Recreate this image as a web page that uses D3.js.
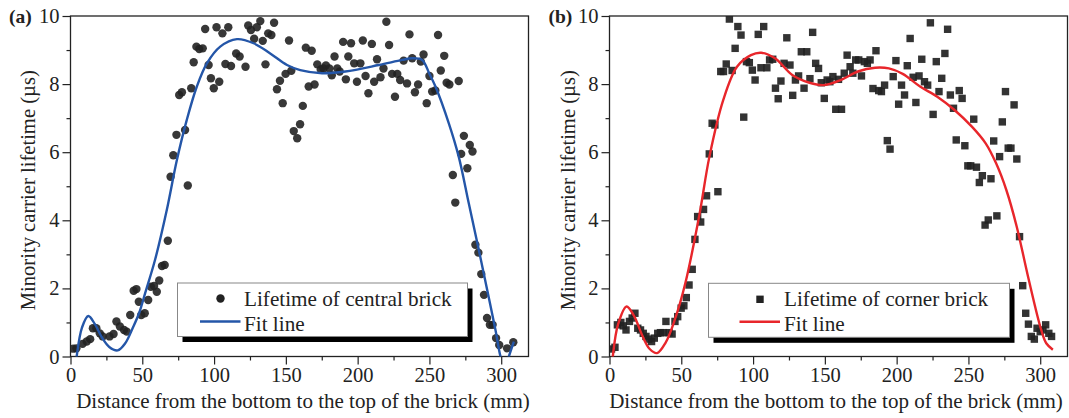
<!DOCTYPE html>
<html>
<head>
<meta charset="utf-8">
<script src="https://cdn.jsdelivr.net/npm/d3@7"></script>
<style>
  html, body { margin: 0; padding: 0; background: #fff; }
  svg { display: block; }
  text { font-family: "Liberation Serif", "Times New Roman", serif; fill: #222; }
</style>
</head>
<body>
<svg id="chart" width="1069" height="418"></svg>
<script>
// ---------- data ----------
const xMajorTicks = [0, 50, 100, 150, 200, 250, 300];
const xMinorTicks = [25, 75, 125, 175, 225, 275];
const yMajorTicks = [0, 2, 4, 6, 8, 10];
const yMinorTicks = [1, 3, 5, 7, 9];

const xTitle = "Distance from the bottom to the top of the brick (mm)";
const yTitle = "Minority carrier lifetime (\u00b5s)";

// (a) central brick
const centralX = [1.9,4.1,8.4,11.3,13.7,15.6,18.0,20.4,22.4,27.2,30.0,32.0,34.4,37.3,39.2,41.6,44.0,45.9,47.6,49.3,
  51.7,54.1,56.0,58.2,60.1,61.8,63.7,65.6,67.8,69.7,71.6,73.8,75.7,77.6,79.8,81.7,84.1,85.8,87.7,89.7,
  92.1,93.8,96.2,97.8,99.8,101.7,103.6,105.8,107.9,109.9,111.8,115.4,117.8,121.9,123.8,125.7,127.9,129.8,132.2,133.9,
  135.8,137.7,139.9,141.8,143.8,145.9,147.8,149.8,152.2,153.8,155.5,157.9,159.9,161.8,163.9,165.9,168.0,170.0,171.9,174.3,
  176.2,177.9,180.3,182.0,183.9,185.8,187.5,189.9,191.8,193.5,195.4,197.6,199.5,201.9,203.6,205.5,207.5,209.9,211.5,213.5,
  215.9,218.0,220.0,221.9,224.0,226.0,227.6,229.6,232.0,234.4,236.1,238.0,239.9,242.1,244.0,245.9,248.1,250.0,251.9,254.1,
  256.0,257.9,260.3,262.0,263.9,266.3,268.0,270.4,272.1,274.0,276.4,278.1,280.0,282.0,284.1,286.1,288.0,290.1,292.1,294.0,
  296.4,298.6,304.1,308.4];
const centralY = [0.23,0.24,0.37,0.44,0.51,0.83,0.83,0.68,0.59,0.59,0.66,1.03,0.88,0.78,0.73,1.22,1.93,1.98,1.61,1.22,
  1.27,1.66,2.05,2.07,1.90,2.23,2.66,2.69,3.40,5.28,5.91,6.51,7.68,7.76,6.65,5.02,7.88,8.64,9.10,9.03,
  9.05,9.62,8.56,8.17,7.88,9.67,8.07,9.49,8.59,9.67,8.53,8.90,8.81,8.51,9.72,9.59,9.33,9.67,9.85,9.27,
  8.58,9.49,9.44,9.80,7.85,8.10,7.44,8.30,9.28,8.39,6.62,6.41,6.82,7.36,9.07,7.93,8.98,7.99,8.58,8.43,
  8.46,8.55,8.46,8.26,8.81,8.46,8.37,9.24,8.14,8.81,9.20,8.61,8.07,8.61,9.28,8.24,7.73,9.18,8.07,8.73,
  8.20,8.46,9.83,9.15,8.30,7.63,8.30,8.12,8.69,8.02,9.46,8.76,7.76,7.99,8.66,8.87,7.44,8.24,7.78,7.81,
  9.44,8.40,8.83,8.04,7.99,5.33,4.52,8.09,5.95,6.48,5.53,6.21,6.02,3.28,3.05,2.42,1.81,1.13,0.93,0.93,
  0.54,0.34,0.24,0.42];

const fitAX = [2.5,4.3,8,12.4,17,22,27,32.9,38,43.8,48,52,58.9,67.1,74.1,81,88,95,104.3,115.9,
  127.5,139.1,150.8,160,175.2,191.4,214.7,231,237.8,244.9,250,254.2,263.5,270.4,277.4,284.4,290.2,296,299.5,302.4,
  305.3,308.8];
const fitAY = [-0.8,0,0.85,1.19,0.95,0.55,0.28,0.18,0.38,0.88,1.3,1.86,2.84,4.31,5.77,6.95,7.93,8.61,9.1,9.32,
  9.2,8.9,8.56,8.41,8.32,8.37,8.56,8.71,8.76,8.71,8.3,7.93,6.85,5.87,4.5,3.13,1.96,0.78,0,-0.35,
  0,0.44];

// (b) corner brick
const cornerX = [1.4,3.8,5.5,7.9,9.6,11.5,13.9,15.8,17.7,19.7,21.6,23.5,25.4,27.3,29.3,31.2,33.6,35.5,37.4,39.3,
  41.5,43.6,45.6,47.5,49.9,51.8,53.5,55.4,57.6,59.5,61.4,63.5,65.5,67.6,69.5,71.5,73.4,75.5,77.5,79.4,
  81.3,83.5,85.4,87.5,89.4,91.6,93.5,95.4,97.4,99.5,101.4,103.6,105.5,107.4,109.6,111.5,113.7,115.6,117.5,119.4,
  121.6,123.5,125.7,127.6,129.5,131.7,133.6,135.5,137.4,139.6,141.5,143.6,145.6,147.5,149.6,151.6,153.5,155.6,157.6,159.5,
  161.6,163.5,165.5,167.6,169.5,171.5,173.6,175.5,177.5,179.6,181.5,183.5,185.6,187.5,189.4,191.6,193.5,195.4,197.6,199.5,
  201.4,203.4,205.5,207.4,209.4,211.5,213.4,215.6,217.5,219.4,221.6,223.5,225.4,227.6,229.5,231.4,233.6,235.5,237.4,239.6,
  241.5,243.6,245.6,247.5,249.6,251.6,253.7,255.6,257.6,259.7,261.6,263.8,265.7,267.6,269.8,271.7,273.6,275.8,277.7,279.6,
  281.8,283.7,285.6,287.8,289.9,291.8,293.8,295.9,297.8,300.0,301.9,303.8,306.0,307.9];
const cornerY = [0.22,0.27,0.93,1.00,0.90,0.78,1.03,1.13,1.27,0.83,0.78,0.68,0.59,0.51,0.44,0.54,0.68,0.70,0.70,1.03,
  0.70,0.66,1.03,1.17,1.42,1.49,1.73,2.10,2.56,3.44,4.11,3.95,4.32,4.72,5.95,6.85,6.80,4.84,8.37,8.37,
  8.59,9.91,8.40,9.05,9.69,9.44,7.03,8.66,8.63,8.41,8.12,9.46,8.48,9.69,8.48,8.71,8.73,7.88,7.57,8.09,
  8.61,9.36,8.56,7.67,8.12,8.24,8.95,7.88,8.95,8.16,9.52,8.61,8.46,8.04,7.58,8.12,8.07,8.22,7.26,8.14,
  7.26,8.32,8.85,8.51,8.32,8.71,8.71,8.24,8.66,8.61,8.71,7.87,8.98,7.81,7.78,7.97,6.34,6.09,8.22,8.69,
  7.41,7.97,7.68,8.54,9.34,8.20,7.46,8.24,8.73,8.07,7.97,9.80,7.11,8.66,7.78,8.17,8.90,9.61,7.68,7.29,
  6.36,7.81,7.58,6.19,5.60,5.60,6.97,5.56,5.11,5.31,3.86,4.01,5.22,6.33,4.13,5.87,6.89,7.78,6.12,6.12,
  7.39,5.80,3.52,2.08,1.27,0.95,0.59,0.51,0.83,0.73,0.78,0.93,0.68,0.59];

const fitBX = [1.2,2.3,6,11.9,17,23,28,33.1,39,45.5,52.8,62.4,69.6,79.2,88.8,98.5,105.7,115.3,127.3,139.3,
  149,161,173,185,194.6,204.2,216.3,228.3,240.3,252.4,262,269.2,276.4,283.6,291.5,300.7,304.2,308.8];
const fitBY = [-0.7,0,0.95,1.47,1.2,0.6,0.22,0.1,0.4,1.08,2.15,4.11,5.87,7.53,8.51,8.85,8.92,8.76,8.27,8.04,
  7.97,8.12,8.37,8.48,8.46,8.3,7.93,7.63,7.24,6.75,6.26,5.68,4.89,3.82,2.35,0.78,0.39,0.2];

const panels = [
  { tag: "(a)", left: 70.5, tagX: 9, yTitleX: 28, xTitleCX: 303, ptsX: centralX, ptsY: centralY, fitX: fitAX, fitY: fitAY,
    marker: "circle", lineColor: "#2456a8", legendText: "Lifetime of central brick",
    legend: { x: 177.5, y: 283, w: 290, h: 53.5, markX: 43, textX: 66.5, lineX0: 22.5, lineX1: 63 } },
  { tag: "(b)", left: 609.5, tagX: 548.5, yTitleX: 568, xTitleCX: 836, ptsX: cornerX, ptsY: cornerY, fitX: fitBX, fitY: fitBY,
    marker: "square", lineColor: "#e8262b", legendText: "Lifetime of corner brick",
    legend: { x: 708.5, y: 283.3, w: 301, h: 54, markX: 51.5, textX: 75.5, lineX0: 31, lineX1: 71.5 } }
];

// ---------- drawing ----------
const svg = d3.select("#chart");
const W = 458, plotTop = 16, plotBottom = 356.5;
const H = plotBottom - plotTop;
const tickFs = 20.5, titleFs = 21, yTitleFs = 20.6, legendFs = 21.2;
const axisColor = "#222";

panels.forEach((p, i) => {
  const g = svg.append("g").attr("transform", `translate(${p.left},${plotTop})`);
  const x = d3.scaleLinear().domain([0, 319]).range([0, W]);
  const y = d3.scaleLinear().domain([0, 10]).range([H, 0]);

  const clipId = "clip" + i;
  g.append("clipPath").attr("id", clipId)
    .append("rect").attr("x", 0).attr("y", 0).attr("width", W).attr("height", H);

  const xMajor = d3.axisBottom(x).tickValues(xMajorTicks).tickSize(8).tickPadding(3).tickSizeOuter(0);
  const xMinor = d3.axisBottom(x).tickValues(xMinorTicks).tickSize(4).tickFormat("").tickSizeOuter(0);
  const yMajor = d3.axisLeft(y).tickValues(yMajorTicks).tickSize(8).tickPadding(3).tickSizeOuter(0);
  const yMinor = d3.axisLeft(y).tickValues(yMinorTicks).tickSize(4).tickFormat("").tickSizeOuter(0);

  [[xMajor, `translate(0,${H})`], [xMinor, `translate(0,${H})`], [yMajor, null], [yMinor, null]].forEach(([ax, tr]) => {
    const a = g.append("g");
    if (tr) a.attr("transform", tr);
    a.call(ax);
    a.select(".domain").remove();
    a.selectAll("line").attr("stroke", axisColor).attr("stroke-width", 1.2);
    a.selectAll("text").style("font-family", '"Liberation Serif", "Times New Roman", serif')
      .style("font-size", tickFs + "px").attr("fill", "#222");
  });

  g.append("rect").attr("x", 0).attr("y", 0).attr("width", W).attr("height", H)
    .attr("fill", "none").attr("stroke", axisColor).attr("stroke-width", 1.3);

  const pts = p.ptsX.map((v, k) => [v, p.ptsY[k]]);
  const pg = g.append("g").attr("clip-path", `url(#${clipId})`);
  if (p.marker === "circle") {
    pg.selectAll("circle").data(pts).join("circle")
      .attr("cx", d => x(d[0])).attr("cy", d => y(d[1])).attr("r", 4.2)
      .attr("fill", "#222").attr("fill-opacity", 0.9);
  } else {
    const s = 7.4;
    pg.selectAll("rect").data(pts).join("rect")
      .attr("x", d => x(d[0]) - s / 2).attr("y", d => y(d[1]) - s / 2)
      .attr("width", s).attr("height", s)
      .attr("fill", "#222").attr("fill-opacity", 0.92);
  }

  const fit = p.fitX.map((v, k) => [v, p.fitY[k]]);
  const line = d3.line().x(d => x(d[0])).y(d => y(d[1])).curve(d3.curveCatmullRom.alpha(0.5));
  g.append("path").attr("clip-path", `url(#${clipId})`)
    .datum(fit).attr("d", line)
    .attr("fill", "none").attr("stroke", p.lineColor).attr("stroke-width", 2.4);

  g.append("text").attr("x", p.xTitleCX - p.left).attr("y", 407.5 - plotTop)
    .attr("text-anchor", "middle").style("font-size", titleFs + "px").text(xTitle);
  g.append("text").attr("transform", `translate(${p.yTitleX - p.left},${H / 2 + 4}) rotate(-90)`)
    .attr("text-anchor", "middle").attr("dy", "0.35em").style("font-size", yTitleFs + "px").text(yTitle);
  g.append("text").attr("x", p.tagX - p.left).attr("y", 22.7 - plotTop)
    .style("font-size", "19.5px").style("font-weight", "bold").text(p.tag);

  const L = p.legend;
  const lg = svg.append("g").attr("transform", `translate(${L.x},${L.y})`);
  lg.append("rect").attr("x", 5).attr("y", 5.5).attr("width", L.w).attr("height", L.h).attr("fill", "#000");
  lg.append("rect").attr("x", 0).attr("y", 0).attr("width", L.w).attr("height", L.h)
    .attr("fill", "#fff").attr("stroke", "#888").attr("stroke-width", 1);
  if (p.marker === "circle") {
    lg.append("circle").attr("cx", L.markX).attr("cy", 15.5).attr("r", 4.2).attr("fill", "#222");
  } else {
    lg.append("rect").attr("x", L.markX - 3.7).attr("y", 16 - 3.7).attr("width", 7.4).attr("height", 7.4).attr("fill", "#222");
  }
  lg.append("text").attr("x", L.textX).attr("y", 22.5).style("font-size", legendFs + "px").text(p.legendText);
  lg.append("line").attr("x1", L.lineX0).attr("x2", L.lineX1).attr("y1", 38.5).attr("y2", 38.5)
    .attr("stroke", p.lineColor).attr("stroke-width", 2.4);
  lg.append("text").attr("x", L.textX).attr("y", 48).style("font-size", legendFs + "px").text("Fit line");
});
</script>
</body>
</html>
